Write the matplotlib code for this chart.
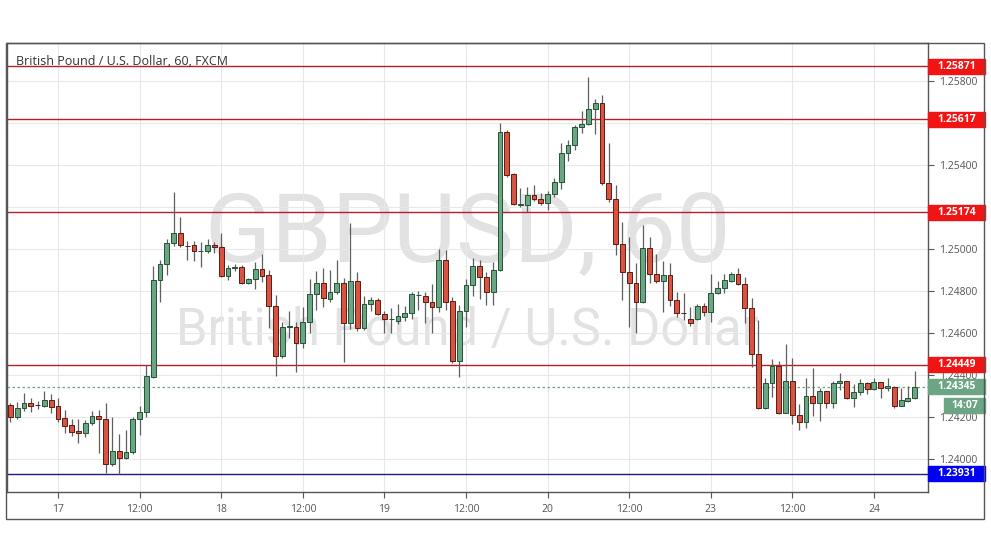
import matplotlib
matplotlib.use("Agg")
import matplotlib.pyplot as plt
import matplotlib.transforms as mtransforms
from matplotlib.patches import Rectangle

# hourly GBPUSD candles, bar 0 = 17th 00:00 (weekend gap removed)
first_bar = -7

opens = [
    1.24257, 1.24199, 1.24241, 1.24265, 1.24257, 1.24254, 1.24280,
    1.24251, 1.24194, 1.24162, 1.24135, 1.24122, 1.24170, 1.24205, 1.24189, 1.23975, 1.24038, 1.24005, 1.24032,
    1.24189, 1.24225, 1.24392, 1.24852, 1.24927, 1.25027, 1.25075, 1.25016, 1.25018, 1.24990, 1.24990, 1.25019,
    1.25008, 1.24873, 1.24911, 1.24913, 1.24837, 1.24856, 1.24905, 1.24876, 1.24729, 1.24490, 1.24630, 1.24630,
    1.24551, 1.24651, 1.24784, 1.24837, 1.24762, 1.24794, 1.24837, 1.24646, 1.24848, 1.24622, 1.24737, 1.24757,
    1.24689, 1.24665, 1.24659, 1.24678, 1.24694, 1.24781, 1.24778, 1.24746, 1.24725, 1.24948, 1.24752, 1.24468,
    1.24705, 1.24829, 1.24919, 1.24865, 1.24794, 1.24900, 1.25559, 1.25357, 1.25210, 1.25210, 1.25257, 1.25237,
    1.25220, 1.25262, 1.25318, 1.25456, 1.25495, 1.25580, 1.25595, 1.25665, 1.25694, 1.25316, 1.25237, 1.25024,
    1.24892, 1.24837, 1.24749, 1.25003, 1.24880, 1.24848, 1.24876, 1.24757, 1.24697, 1.24665, 1.24665, 1.24729,
    1.24701, 1.24789, 1.24813, 1.24849, 1.24880, 1.24832, 1.24718, 1.24499, 1.24241, 1.24360, 1.24443, 1.24220,
    1.24371, 1.24208, 1.24175, 1.24300, 1.24265, 1.24324, 1.24265, 1.24360, 1.24371, 1.24289, 1.24318, 1.24360,
    1.24332, 1.24365, 1.24337, 1.24345, 1.24254, 1.24278, 1.24289,
]
highs = [
    1.24265, 1.24273, 1.24313, 1.24292, 1.24278, 1.24324, 1.24311,
    1.24292, 1.24233, 1.24189, 1.24190, 1.24186, 1.24230, 1.24233, 1.24265, 1.24201, 1.24119, 1.24138, 1.24201,
    1.24254, 1.24448, 1.24919, 1.24948, 1.25046, 1.25273, 1.25154, 1.25038, 1.25038, 1.25035, 1.25046, 1.25035,
    1.25075, 1.24924, 1.24929, 1.24924, 1.24863, 1.24940, 1.24975, 1.24900, 1.24781, 1.24654, 1.24705, 1.24654,
    1.24725, 1.24856, 1.24897, 1.24908, 1.24900, 1.24948, 1.24860, 1.25125, 1.24889, 1.24776, 1.24773, 1.24765,
    1.24705, 1.24720, 1.24738, 1.24729, 1.24797, 1.24801, 1.24797, 1.24832, 1.24999, 1.24995, 1.24773, 1.24733,
    1.24857, 1.24956, 1.24948, 1.24892, 1.24940, 1.25601, 1.25567, 1.25360, 1.25289, 1.25294, 1.25305, 1.25268,
    1.25278, 1.25337, 1.25503, 1.25519, 1.25590, 1.25657, 1.25820, 1.25713, 1.25733, 1.25506, 1.25305, 1.25130,
    1.25059, 1.24935, 1.25114, 1.25059, 1.24976, 1.24944, 1.24935, 1.24797, 1.24792, 1.24725, 1.24737, 1.24741,
    1.24880, 1.24848, 1.24880, 1.24889, 1.24908, 1.24865, 1.24768, 1.24662, 1.24384, 1.24476, 1.24467, 1.24548,
    1.24482, 1.24262, 1.24384, 1.24435, 1.24337, 1.24326, 1.24371, 1.24408, 1.24373, 1.24356, 1.24381, 1.24368,
    1.24384, 1.24368, 1.24387, 1.24348, 1.24337, 1.24348, 1.24419,
]
lows = [
    1.24175, 1.24189, 1.24230, 1.24222, 1.24238, 1.24246, 1.24218,
    1.24178, 1.24122, 1.24110, 1.24078, 1.24106, 1.24162, 1.24030, 1.23932, 1.23967, 1.23927, 1.23999, 1.24024,
    1.24114, 1.24201, 1.24386, 1.24749, 1.24876, 1.25014, 1.25011, 1.24948, 1.24943, 1.24913, 1.24980, 1.24982,
    1.24865, 1.24852, 1.24897, 1.24833, 1.24833, 1.24811, 1.24841, 1.24622, 1.24395, 1.24480, 1.24575, 1.24416,
    1.24527, 1.24599, 1.24710, 1.24725, 1.24749, 1.24784, 1.24463, 1.24618, 1.24610, 1.24614, 1.24705, 1.24686,
    1.24599, 1.24599, 1.24643, 1.24659, 1.24665, 1.24710, 1.24646, 1.24601, 1.24701, 1.24710, 1.24456, 1.24389,
    1.24630, 1.24776, 1.24760, 1.24733, 1.24733, 1.24895, 1.25344, 1.25210, 1.25199, 1.25178, 1.25230, 1.25210,
    1.25186, 1.25249, 1.25284, 1.25419, 1.25471, 1.25551, 1.25590, 1.25548, 1.25305, 1.25225, 1.24971, 1.24757,
    1.24630, 1.24599, 1.24741, 1.24837, 1.24837, 1.24701, 1.24729, 1.24678, 1.24662, 1.24633, 1.24662, 1.24681,
    1.24654, 1.24786, 1.24789, 1.24844, 1.24829, 1.24649, 1.24437, 1.24237, 1.24237, 1.24297, 1.24214, 1.24218,
    1.24165, 1.24138, 1.24146, 1.24206, 1.24182, 1.24241, 1.24241, 1.24329, 1.24288, 1.24249, 1.24305, 1.24310,
    1.24329, 1.24289, 1.24325, 1.24244, 1.24252, 1.24273, 1.24288,
]
closes = [
    1.24199, 1.24241, 1.24265, 1.24254, 1.24256, 1.24280, 1.24249,
    1.24192, 1.24159, 1.24130, 1.24122, 1.24170, 1.24205, 1.24189, 1.23975, 1.24038, 1.24006, 1.24032, 1.24189,
    1.24225, 1.24395, 1.24852, 1.24927, 1.25027, 1.25075, 1.25019, 1.25014, 1.24990, 1.24992, 1.25018, 1.25008,
    1.24873, 1.24908, 1.24912, 1.24837, 1.24857, 1.24903, 1.24873, 1.24729, 1.24490, 1.24630, 1.24632, 1.24551,
    1.24651, 1.24784, 1.24837, 1.24765, 1.24794, 1.24837, 1.24646, 1.24848, 1.24622, 1.24737, 1.24757, 1.24689,
    1.24665, 1.24667, 1.24681, 1.24694, 1.24784, 1.24783, 1.24746, 1.24725, 1.24948, 1.24749, 1.24468, 1.24705,
    1.24829, 1.24919, 1.24865, 1.24794, 1.24900, 1.25559, 1.25352, 1.25213, 1.25212, 1.25257, 1.25237, 1.25220,
    1.25262, 1.25318, 1.25456, 1.25495, 1.25580, 1.25595, 1.25665, 1.25694, 1.25316, 1.25237, 1.25024, 1.24892,
    1.24837, 1.24749, 1.25003, 1.24880, 1.24848, 1.24876, 1.24757, 1.24697, 1.24695, 1.24649, 1.24729, 1.24701,
    1.24789, 1.24813, 1.24852, 1.24880, 1.24832, 1.24718, 1.24499, 1.24241, 1.24360, 1.24443, 1.24220, 1.24371,
    1.24208, 1.24175, 1.24300, 1.24265, 1.24324, 1.24265, 1.24360, 1.24371, 1.24289, 1.24318, 1.24360, 1.24332,
    1.24365, 1.24337, 1.24348, 1.24254, 1.24281, 1.24292, 1.24345,
]

tick_pos = [0, 12, 24, 36, 48, 60, 72, 84, 96, 108, 120]
tick_labels = ['17', '12:00', '18', '12:00', '19', '12:00', '20', '12:00', '23', '12:00', '24']
price_ticks = [1.240, 1.242, 1.244, 1.246, 1.248, 1.250, 1.252, 1.254, 1.256, 1.258]
# 1.25200 / 1.25600 sit under the level tags, the chart hides them
price_labels = ['1.24000', '1.24200', '1.24400', '1.24600', '1.24800', '1.25000', '', '1.25400', '', '1.25800']

resistance = [1.25871, 1.25617, 1.25174, 1.24449]
support = 1.23931
last_price = 1.24345
countdown = '14:07'

up_fill, up_edge = '#6ba583', '#225437'
dn_fill, dn_edge = '#d75442', '#5b1a13'
wick = '#5f5f5f'
frame = '#555555'

fig = plt.figure(figsize=(9.91, 5.56), dpi=100)
ax = fig.add_axes([7 / 991, 64 / 556, 921 / 991, 449 / 556])

# outer frame incl. time scale and price scale
fig.patches.append(Rectangle((6 / 991, 37 / 556), 978 / 991, 476 / 556, transform=fig.transFigure,
                             fill=False, edgecolor=frame, lw=1.0))

# watermark
ax.text(0.5, 0.512, 'GBPUSD, 60', transform=ax.transAxes, ha='center', va='baseline',
        fontsize=70, color='#e2e2e2', family='Roboto', zorder=0)
ax.text(0.5, 0.327, 'British Pound / U.S. Dollar', transform=ax.transAxes, ha='center', va='baseline',
        fontsize=36.5, color='#e2e2e2', family='Roboto', zorder=0)

# candles
for i in range(len(opens)):
    x = first_bar + i
    o, h, l, c = opens[i], highs[i], lows[i], closes[i]
    up = c >= o
    ax.vlines(x, l, h, color=wick, lw=0.9, zorder=3)
    ax.bar(x, max(abs(c - o), 0.00002), bottom=min(o, c), width=0.72,
           color=up_fill if up else dn_fill, edgecolor=up_edge if up else dn_edge, lw=0.7, zorder=4)

for lvl in resistance:
    ax.axhline(lvl, color='#b3202c', lw=1.0, zorder=2)
ax.axhline(support, color='#1a1a8a', lw=1.0, zorder=2)
ax.axhline(last_price, color=up_fill, lw=0.9, ls=(0, (2, 2)), zorder=2)

ax.set_xlim(-7.5, 127.95)
ax.set_ylim(1.23843, 1.25981)
ax.set_xticks(tick_pos)
ax.set_xticklabels(tick_labels)
ax.set_yticks(price_ticks)
ax.set_yticklabels(price_labels)
ax.yaxis.tick_right()
ax.tick_params(axis='both', colors=frame, labelcolor='#555555', labelsize=7.5, length=4, width=0.8)
ax.tick_params(axis='x', pad=5)
ax.tick_params(axis='y', pad=4)
for lab in ax.get_xticklabels() + ax.get_yticklabels():
    lab.set_family('Open Sans')
ax.grid(color='#e8e8e8', lw=0.8)
ax.set_axisbelow(True)
for s in ax.spines.values():
    s.set_color(frame)
    s.set_linewidth(1.0)

ax.text(0.0098, 0.951, 'British Pound / U.S. Dollar, 60, FXCM', transform=ax.transAxes,
        fontsize=9, color='#333333', family='Open Sans', va='baseline')

# price tags on the right scale
trans = mtransforms.blended_transform_factory(ax.transAxes, ax.transData)
tag_h = 15 / 21000


def price_tag(y, text, color, x0=1.0, w=57 / 921):
    ax.add_patch(Rectangle((x0, y - tag_h / 2), w, tag_h, transform=trans, color=color,
                           clip_on=False, zorder=10))
    ax.text(x0 + w / 2, y, text, transform=trans, ha='center', va='center', color='white',
            fontsize=7.5, fontweight='bold', family='Open Sans', clip_on=False, zorder=11)


for lvl in resistance:
    price_tag(lvl, '%.5f' % lvl, '#f01414')
price_tag(support, '%.5f' % support, '#0000f0')
price_tag(last_price, '%.5f' % last_price, up_fill)
price_tag(last_price - 18.5 / 21000, countdown, up_fill, x0=1.0 + 16 / 921, w=41 / 921)

fig.savefig('out.png', dpi=100)
